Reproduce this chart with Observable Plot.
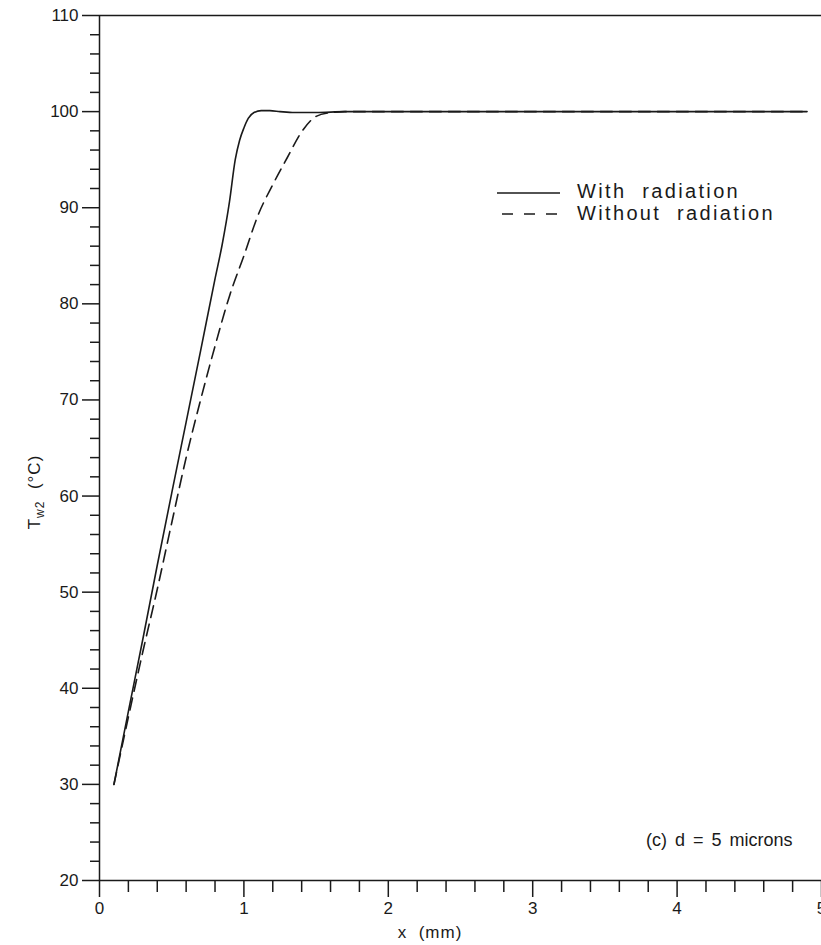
<!DOCTYPE html>
<html><head><meta charset="utf-8">
<script src="https://cdn.jsdelivr.net/npm/d3@7"></script>
<script src="https://cdn.jsdelivr.net/npm/@observablehq/plot@0.6"></script>
<style>
body{margin:0;background:#fff}
#chart svg{font-family:"Liberation Sans",Arial,sans-serif}
</style>
</head><body><div id="chart"></div>
<script>
// With radiation (solid)
const xWith = [0.1, 0.2, 0.3, 0.4, 0.5, 0.6, 0.7, 0.8, 0.85, 0.9, 0.94, 0.97, 1.0, 1.03, 1.07, 1.12, 1.18, 1.25, 1.35, 1.5, 1.7, 2.0, 3.0, 4.0, 4.9];
const tWith = [30, 37.6, 45.1, 52.8, 60.3, 67.7, 75.1, 82.6, 86.2, 90.6, 95.0, 97.0, 98.3, 99.3, 99.9, 100.1, 100.1, 100.0, 99.9, 99.9, 100, 100, 100, 100, 100];
// Without radiation (dashed)
const xWithout = [0.1, 0.2, 0.3, 0.4, 0.5, 0.6, 0.7, 0.8, 0.9, 1.0, 1.1, 1.2, 1.3, 1.4, 1.5, 1.6, 1.7, 2.0, 3.0, 4.0, 4.9];
const tWithout = [30, 37, 43.8, 50.3, 57.2, 64.0, 70.0, 75.6, 80.8, 85.0, 89.3, 92.4, 95.2, 97.9, 99.5, 99.9, 100, 100, 100, 100, 100];

const seriesNames = ["With radiation", "Without radiation"];
const yMajor = [20, 30, 40, 50, 60, 70, 80, 90, 100, 110];
const yMinor = [22, 24, 26, 28, 32, 34, 36, 38, 42, 44, 46, 48, 52, 54, 56, 58, 62, 64, 66, 68, 72, 74, 76, 78, 82, 84, 86, 88, 92, 94, 96, 98, 102, 104, 106, 108];
const xMajor = [0, 1, 2, 3, 4, 5];
const xMinor = [0.2, 0.4, 0.6, 0.8, 1.2, 1.4, 1.6, 1.8, 2.2, 2.4, 2.6, 2.8, 3.2, 3.4, 3.6, 3.8, 4.2, 4.4, 4.6, 4.8];

const withRad = xWith.map((x, i) => ({x, t: tWith[i]}));
const withoutRad = xWithout.map((x, i) => ({x, t: tWithout[i]}));

const ink = "#1a1a1a";
const plot = Plot.plot({
  width: 821, height: 945,
  marginLeft: 99, marginRight: 0, marginTop: 15, marginBottom: 65,
  x: {domain: [0, 5]},
  y: {domain: [20, 110]},
  style: {fontFamily: '"Liberation Sans", Arial, sans-serif', fontSize: "17px", color: ink, background: "#fff", overflow: "visible"},
  marks: [
    Plot.axisY(yMajor, {tickSize: 17, tickPadding: 4, label: null, strokeWidth: 1.5, fontSize: 17, tickFormat: d => String(d)}),
    Plot.axisY(yMinor, {tickSize: 9, tickFormat: () => "", label: null, strokeWidth: 1.5}),
    Plot.axisX(xMajor, {tickSize: 17, tickPadding: 4, label: null, strokeWidth: 1.5, fontSize: 17, tickFormat: d => String(d)}),
    Plot.axisX(xMinor, {tickSize: 12, tickFormat: () => "", label: null, strokeWidth: 1.5}),
    Plot.ruleY([110], {stroke: ink, strokeWidth: 1.5}),
    Plot.ruleY([20], {stroke: ink, strokeWidth: 1.5}),
    Plot.ruleX([0], {stroke: ink, strokeWidth: 1.5}),
    Plot.line(withRad, {x: "x", y: "t", stroke: ink, strokeWidth: 1.6, curve: "monotone-x"}),
    Plot.line(withoutRad, {x: "x", y: "t", stroke: ink, strokeWidth: 1.6, strokeDasharray: "12,7", curve: "monotone-x"})
  ]
});
document.getElementById("chart").appendChild(plot);

const svg = d3.select(plot);
const font = '"Liberation Sans", Arial, sans-serif';
// Y label
const yl = svg.append("text")
  .attr("transform", "translate(40,492) rotate(-90)")
  .attr("text-anchor", "middle")
  .attr("font-family", font).attr("font-size", 17).attr("fill", ink)
  .attr("letter-spacing", 1);
yl.append("tspan").text("T");
yl.append("tspan").attr("font-size", 12).attr("dy", 4).text("w2");
yl.append("tspan").attr("dy", -4).text("\u00a0\u00a0(°C)");
// X label
svg.append("text").attr("x", 430).attr("y", 938).attr("text-anchor", "middle")
  .attr("font-family", font).attr("font-size", 17).attr("fill", ink).attr("letter-spacing", 1)
  .text("x\u00a0\u00a0(mm)");
// Legend
const lg = svg.append("g").attr("font-family", font).attr("font-size", 20).attr("fill", ink)
  .attr("letter-spacing", 2.35).attr("text-anchor", "start");
lg.append("line").attr("x1", 497).attr("x2", 560).attr("y1", 193).attr("y2", 193).attr("stroke", ink).attr("stroke-width", 1.5);
lg.append("line").attr("x1", 502).attr("x2", 560).attr("y1", 214).attr("y2", 214).attr("stroke", ink).attr("stroke-width", 1.5).attr("stroke-dasharray", "11,11");
lg.append("text").attr("x", 577).attr("y", 198).attr("text-anchor", "start").text(seriesNames[0].replace(" ", "\u00a0\u00a0"));
lg.append("text").attr("x", 577).attr("y", 220).attr("text-anchor", "start").text(seriesNames[1].replace(" ", "\u00a0\u00a0"));
// Annotation
svg.append("text").attr("x", 646).attr("y", 846).attr("text-anchor", "start").attr("font-family", font).attr("font-size", 18)
  .attr("fill", ink).attr("letter-spacing", 0).attr("word-spacing", 3)
  .text("(c) d = 5 microns");
</script>
</body></html>
